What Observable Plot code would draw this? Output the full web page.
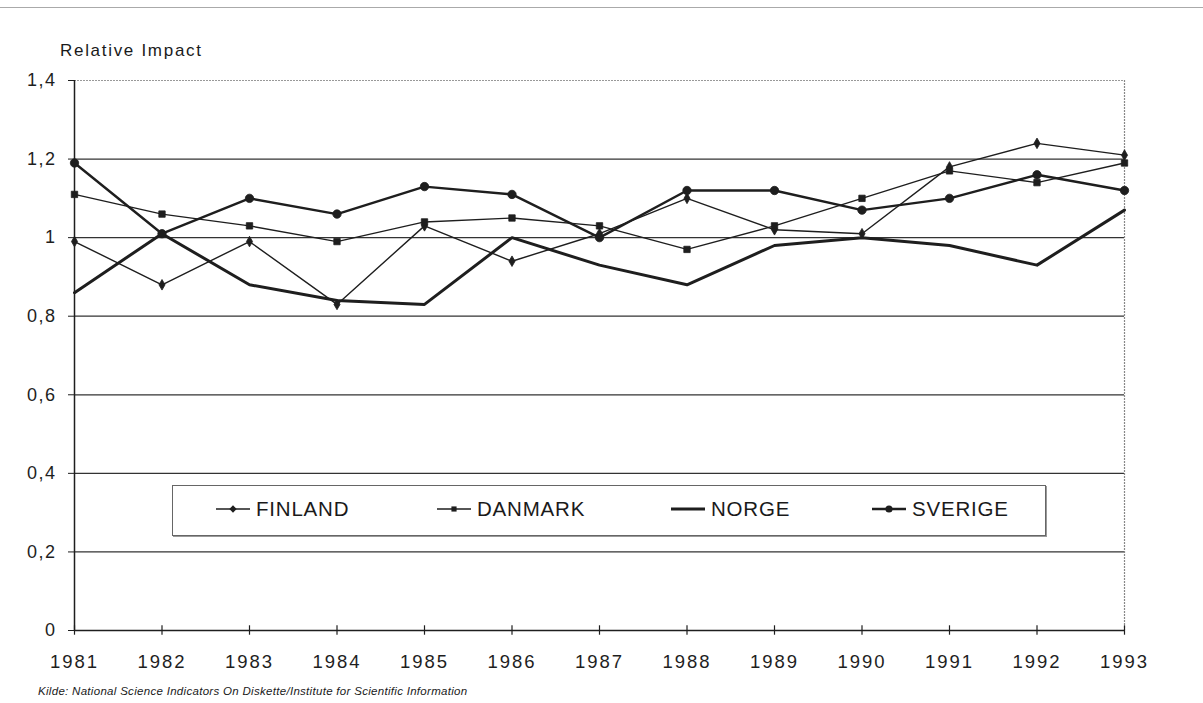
<!DOCTYPE html>
<html>
<head>
<meta charset="utf-8">
<script src="https://cdn.jsdelivr.net/npm/d3@7"></script>
<script src="https://cdn.jsdelivr.net/npm/@observablehq/plot@0.6"></script>
<style>
  html, body { margin: 0; padding: 0; background: #fff; }
  body { width: 1203px; height: 703px; overflow: hidden; position: relative; font-family: "Liberation Sans", Arial, sans-serif; color: #1a1a1a; }
  #chart { position: absolute; left: 0; top: 0; }
  #topline { position: absolute; left: 0; top: 7px; width: 1203px; height: 0; border-top: 1px solid #aaa; }
  #ylabel { position: absolute; left: 60px; top: 41px; font-size: 17px; letter-spacing: 1.7px; }
  #caption { position: absolute; left: 38px; top: 685px; font-size: 11.5px; font-style: italic; letter-spacing: 0.3px; }
  #legend { position: absolute; left: 172px; top: 485px; width: 872px; height: 49px; border: 1px solid #666; box-shadow: 1px 1px 0 #999; background: #fff; }
  .item { position: absolute; top: 11px; font-size: 20.5px; letter-spacing: 0.8px; display: flex; align-items: center; }
  g[aria-label="x-axis tick label"] text { letter-spacing: 2px; }
  g[aria-label="y-axis tick label"] text { letter-spacing: 1.5px; }
</style>
</head>
<body>
<div id="topline"></div>
<div id="chart"></div>
<div id="ylabel">Relative Impact</div>
<div id="legend"></div>
<div id="caption">Kilde: National Science Indicators On Diskette/Institute for Scientific Information</div>
<script>
const years = [1981,1982,1983,1984,1985,1986,1987,1988,1989,1990,1991,1992,1993];
const finland = [0.99,0.88,0.99,0.83,1.03,0.94,1.01,1.10,1.02,1.01,1.18,1.24,1.21];
const danmark = [1.11,1.06,1.03,0.99,1.04,1.05,1.03,0.97,1.03,1.10,1.17,1.14,1.19];
const norge   = [0.86,1.01,0.88,0.84,0.83,1.00,0.93,0.88,0.98,1.00,0.98,0.93,1.07];
const sverige = [1.19,1.01,1.10,1.06,1.13,1.11,1.00,1.12,1.12,1.07,1.10,1.16,1.12];
const countries = ["FINLAND","DANMARK","NORGE","SVERIGE"];
const yTicks = [0,0.2,0.4,0.6,0.8,1.0,1.2,1.4];
const yTickLabels = ["0","0,2","0,4","0,6","0,8","1","1,2","1,4"];

const seriesValues = {FINLAND: finland, DANMARK: danmark, NORGE: norge, SVERIGE: sverige};
const rows = countries.flatMap(c => years.map((y, i) => ({country: c, year: y, value: seriesValues[c][i]})));
const style = {
  FINLAND: {w: 1.4, symbol: "diamond", r: 3.2},
  DANMARK: {w: 1.4, symbol: "square", r: 3.6},
  NORGE:   {w: 3.0, symbol: null, r: 0},
  SVERIGE: {w: 2.4, symbol: "circle", r: 4.2}
};
const ink = "#1e1e1e";

const marks = [
  Plot.ruleY(yTicks.filter(v => v > 0 && v < 1.4), {stroke: "#333", strokeWidth: 1.3}),
  Plot.ruleY([1.4], {stroke: "#999", strokeWidth: 1.2, strokeDasharray: "2,1"}),
  Plot.ruleX([1993], {stroke: "#888", strokeWidth: 1.2, strokeDasharray: "2,1"}),
  Plot.ruleX([1981], {stroke: ink, strokeWidth: 1.5}),
  Plot.ruleY([0], {stroke: ink, strokeWidth: 1.5}),
  Plot.ruleX(years, {x: d => d, y1: -0.012, y2: 0.012, stroke: ink, strokeWidth: 1.2, clip: false}),
  Plot.axisX({ticks: years, tickFormat: d => String(d), tickSize: 0, tickPadding: 24, fontSize: 18.5, fill: ink, label: null}),
  Plot.axisY({ticks: yTicks, tickFormat: (d, i) => yTickLabels[i], tickSize: 6, tickPadding: 12, fontSize: 18, fill: ink, stroke: ink, label: null})
];
for (const c of countries) {
  const data = rows.filter(r => r.country === c);
  marks.push(Plot.line(data, {x: "year", y: "value", stroke: ink, strokeWidth: style[c].w, strokeLinejoin: "round"}));
  if (style[c].symbol) {
    marks.push(Plot.dot(data, {x: "year", y: "value", symbol: style[c].symbol, r: style[c].r, fill: ink, stroke: ink, strokeWidth: 0.8}));
  }
}

const chart = Plot.plot({
  width: 1203,
  height: 703,
  marginLeft: 74,
  marginRight: 79,
  marginTop: 80,
  marginBottom: 73,
  x: {domain: [1981, 1993]},
  y: {domain: [0, 1.4]},
  style: {fontFamily: "'Liberation Sans', Arial, sans-serif", color: ink, background: "transparent", overflow: "visible"},
  marks
});
document.getElementById("chart").appendChild(chart);

// Legend
const legend = document.getElementById("legend");
const lx = [43, 264, 498, 699];
countries.forEach((c, i) => {
  const s = style[c];
  const div = document.createElement("div");
  div.className = "item";
  div.style.left = lx[i] + "px";
  const ns = "http://www.w3.org/2000/svg";
  const sw = document.createElementNS(ns, "svg");
  sw.setAttribute("width", 40); sw.setAttribute("height", 20);
  const ln = document.createElementNS(ns, "line");
  ln.setAttribute("x1", 0); ln.setAttribute("x2", 34); ln.setAttribute("y1", 10); ln.setAttribute("y2", 10);
  ln.setAttribute("stroke", ink); ln.setAttribute("stroke-width", Math.max(1.6, s.w));
  sw.appendChild(ln);
  if (s.symbol) {
    const p = document.createElementNS(ns, "path");
    p.setAttribute("d", d3.symbol(s.symbol === "diamond" ? d3.symbolDiamond2 : s.symbol === "square" ? d3.symbolSquare2 : d3.symbolCircle, s.symbol === "circle" ? 40 : 34)());
    p.setAttribute("transform", "translate(17,10)");
    p.setAttribute("fill", ink);
    sw.appendChild(p);
  }
  div.appendChild(sw);
  const t = document.createElement("span");
  t.textContent = c;
  div.appendChild(t);
  legend.appendChild(div);
});
</script>
</body>
</html>
